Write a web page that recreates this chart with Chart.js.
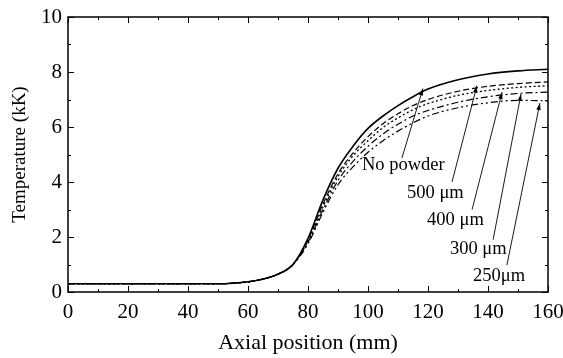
<!DOCTYPE html>
<html>
<head>
<meta charset="utf-8">
<script src="https://cdn.jsdelivr.net/npm/chart.js@4.4.1/dist/chart.umd.min.js"></script>
<style>
  html, body { margin: 0; padding: 0; background: #fff; }
  #wrap { width: 563px; height: 358px; }
</style>
</head>
<body>
<div id="wrap"><canvas id="chart" width="563" height="358"></canvas></div>
<script>
// axial position (mm) where the curves were read
const positions = [0, 20, 40, 50, 55, 60, 65, 70, 75, 80, 85, 90, 95, 100, 105, 110, 115, 120, 130, 140, 150, 160];

// temperature (kK) for each case
const noPowder = [0.3, 0.3, 0.3, 0.3, 0.32, 0.37, 0.47, 0.65, 1.0, 1.95, 3.35, 4.5, 5.3, 5.95, 6.4, 6.78, 7.1, 7.38, 7.72, 7.93, 8.04, 8.1];
const p500 = [0.3, 0.3, 0.3, 0.3, 0.32, 0.37, 0.47, 0.65, 1.0, 1.9, 3.2, 4.3, 5.05, 5.65, 6.12, 6.48, 6.78, 7.0, 7.3, 7.48, 7.58, 7.64];
const p400 = [0.3, 0.3, 0.3, 0.3, 0.32, 0.37, 0.47, 0.65, 1.0, 1.85, 3.1, 4.2, 4.95, 5.5, 5.98, 6.33, 6.63, 6.85, 7.15, 7.33, 7.44, 7.5];
const p300 = [0.3, 0.3, 0.3, 0.3, 0.32, 0.37, 0.47, 0.65, 1.0, 1.8, 3.0, 4.05, 4.75, 5.3, 5.75, 6.1, 6.4, 6.6, 6.9, 7.1, 7.22, 7.27];
const p250 = [0.3, 0.3, 0.3, 0.3, 0.32, 0.37, 0.47, 0.65, 1.0, 1.75, 2.9, 3.9, 4.55, 5.08, 5.5, 5.85, 6.15, 6.4, 6.7, 6.88, 6.97, 6.95];

// annotation labels with text anchor and arrow tail/head, in data units
const labelTexts = ['No powder', '500 μm', '400 μm', '300 μm', '250μm'];
const labelX = [98, 113, 119.7, 127.3, 135];
const labelY = [4.6, 3.6, 2.6, 1.55, 0.58];
const arrowFrom = [[111.3, 4.87], [128, 4.0], [134.7, 3.0], [141.7, 1.9], [146.3, 0.98]];
const arrowTo = [[118.3, 7.4], [136.3, 7.5], [144.7, 7.27], [151, 7.2], [157.3, 6.87]];

const serif = '"Liberation Serif", "DejaVu Serif", serif';

function series(data, dash, width) {
  return {
    data: positions.map((x, i) => ({ x: x, y: data[i] })),
    borderColor: '#000',
    borderWidth: width,
    borderDash: dash,
    pointRadius: 0,
    fill: false,
    cubicInterpolationMode: 'monotone'
  };
}

// inward tick marks on all four sides
const frameTicks = {
  id: 'frameTicks',
  afterDraw(chart) {
    const { ctx, chartArea: a, scales: { x, y } } = chart;
    ctx.save();
    ctx.strokeStyle = '#000';
    ctx.lineWidth = 1;
    ctx.beginPath();
    for (let v = 0; v <= 160; v += 10) {
      const px = Math.round(x.getPixelForValue(v)) + 0.5;
      const len = v % 20 === 0 ? 6 : 3;
      ctx.moveTo(px, a.bottom); ctx.lineTo(px, a.bottom - len);
      ctx.moveTo(px, a.top); ctx.lineTo(px, a.top + len);
    }
    for (let v = 0; v <= 10; v += 1) {
      const py = Math.round(y.getPixelForValue(v)) + 0.5;
      const len = v % 2 === 0 ? 6 : 3;
      ctx.moveTo(a.left, py); ctx.lineTo(a.left + len, py);
      ctx.moveTo(a.right, py); ctx.lineTo(a.right - len, py);
    }
    ctx.stroke();
    ctx.lineWidth = 1.5;
    ctx.strokeRect(a.left, a.top, a.right - a.left, a.bottom - a.top);
    ctx.restore();
  }
};

// labels with arrows pointing at the curves
const arrows = {
  id: 'arrows',
  afterDatasetsDraw(chart) {
    const { ctx, scales: { x, y } } = chart;
    ctx.save();
    ctx.fillStyle = '#000';
    ctx.strokeStyle = '#000';
    ctx.font = '18.5px ' + serif;
    ctx.textBaseline = 'middle';
    ctx.textAlign = 'left';
    labelTexts.forEach((t, i) => {
      ctx.fillText(t, x.getPixelForValue(labelX[i]), y.getPixelForValue(labelY[i]));
      const x0 = x.getPixelForValue(arrowFrom[i][0]), y0 = y.getPixelForValue(arrowFrom[i][1]);
      const x1 = x.getPixelForValue(arrowTo[i][0]), y1 = y.getPixelForValue(arrowTo[i][1]);
      ctx.lineWidth = 0.9;
      ctx.beginPath();
      ctx.moveTo(x0, y0); ctx.lineTo(x1, y1);
      ctx.stroke();
      const ang = Math.atan2(y1 - y0, x1 - x0);
      const h = 7, w = 2.2;
      ctx.beginPath();
      ctx.moveTo(x1, y1);
      ctx.lineTo(x1 - h * Math.cos(ang) + w * Math.sin(ang), y1 - h * Math.sin(ang) - w * Math.cos(ang));
      ctx.lineTo(x1 - h * Math.cos(ang) - w * Math.sin(ang), y1 - h * Math.sin(ang) + w * Math.cos(ang));
      ctx.closePath();
      ctx.fill();
    });
    ctx.restore();
  }
};

new Chart(document.getElementById('chart').getContext('2d'), {
  type: 'line',
  data: {
    datasets: [
      series(noPowder, [], 1.6),
      series(p500, [6, 3], 1.2),
      series(p400, [2, 2.5], 1.3),
      series(p300, [7, 3, 2, 3], 1.2),
      series(p250, [7, 3, 2, 3, 2, 3], 1.2)
    ]
  },
  options: {
    responsive: false,
    animation: false,
    events: [],
    layout: { padding: { top: 17, right: 15, left: 0, bottom: 0 } },
    plugins: { legend: { display: false }, tooltip: { enabled: false } },
    scales: {
      x: {
        type: 'linear',
        min: 0,
        max: 160,
        grid: { display: false, drawTicks: false },
        border: { display: false },
        ticks: {
          stepSize: 10,
          padding: 8,
          color: '#000',
          font: { family: serif, size: 21 },
          maxRotation: 0,
          autoSkip: false,
          callback: v => (v % 20 === 0 ? v : '')
        },
        title: {
          display: true,
          text: 'Axial position (mm)',
          color: '#000',
          font: { family: serif, size: 22 },
          padding: { top: 4, bottom: 2 }
        },
        afterFit: s => { s.height = 66; s.paddingLeft = 0; s.paddingRight = 0; }
      },
      y: {
        min: 0,
        max: 10,
        grid: { display: false, drawTicks: false },
        border: { display: false },
        ticks: {
          stepSize: 1,
          padding: 6,
          color: '#000',
          font: { family: serif, size: 21 },
          autoSkip: false,
          callback: v => (v % 2 === 0 ? v : '')
        },
        title: {
          display: true,
          text: 'Temperature (kK)',
          color: '#000',
          font: { family: serif, size: 19 },
          padding: { top: 9, bottom: 4 }
        },
        afterFit: s => { s.width = 68; s.paddingTop = 0; s.paddingBottom = 0; }
      }
    }
  },
  plugins: [frameTicks, arrows]
});
</script>
</body>
</html>
